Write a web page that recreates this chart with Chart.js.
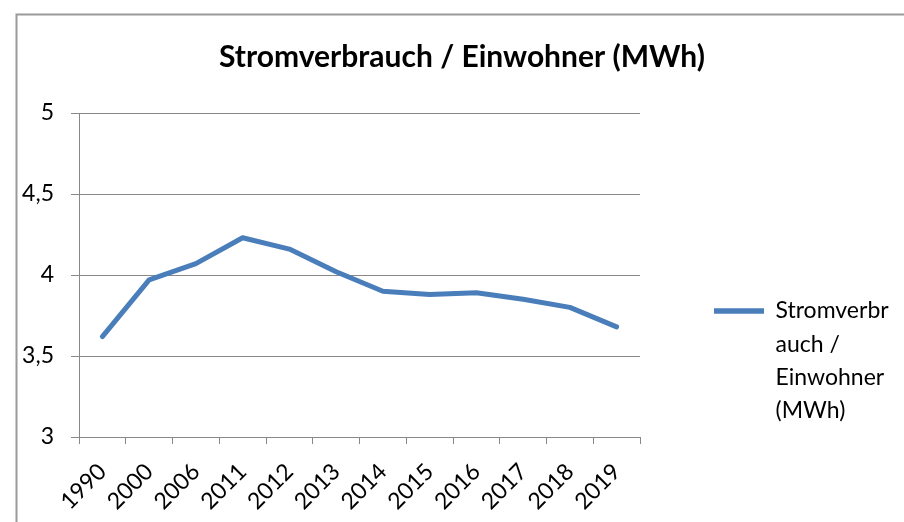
<!DOCTYPE html>
<html><head><meta charset="utf-8">
<script src="https://cdn.jsdelivr.net/npm/chart.js@4.4.0/dist/chart.umd.min.js"></script>
<style>html,body{margin:0;padding:0;background:#fff;overflow:hidden}</style>
</head><body>
<canvas id="c" width="904" height="522"></canvas>
<script>
const years = ['1990','2000','2006','2011','2012','2013','2014','2015','2016','2017','2018','2019'];
const consumption = [3.62, 3.97, 4.07, 4.23, 4.16, 4.02, 3.90, 3.88, 3.89, 3.85, 3.80, 3.68];
const yTicks = [3, 3.5, 4, 4.5, 5];
const titleText = 'Stromverbrauch / Einwohner (MWh)';
const seriesLabel = 'Stromverbrauch / Einwohner (MWh)';
const legendLines = ['Stromverbr', 'auch /', 'Einwohner', '(MWh)'];

const FONT = 'Lato, Carlito, "Open Sans", sans-serif';
const GRID = '#888888';
const LEGEND_W = 264;

const framePlugin = {
  id: 'frame',
  beforeDraw(chart) {
    const ctx = chart.ctx;
    ctx.save();
    ctx.fillStyle = '#ffffff';
    ctx.fillRect(0, 0, chart.width, chart.height);
    ctx.strokeStyle = '#9a9a9a';
    ctx.lineWidth = 2;
    ctx.strokeRect(16.5, 14.5, 2000, 2000);
    ctx.restore();
  }
};

const legendWidthPlugin = {
  id: 'legendWidth',
  beforeLayout(chart) {
    const lg = chart.legend;
    if (lg && !lg.__patched) {
      const orig = lg.fit;
      lg.fit = function () { orig.call(this); this.width = LEGEND_W; };
      lg.__patched = true;
    }
  }
};

new Chart(document.getElementById('c'), {
  type: 'line',
  data: {
    labels: years,
    datasets: [{
      label: seriesLabel,
      data: consumption,
      borderColor: '#4A7EBB',
      backgroundColor: '#4A7EBB',
      borderWidth: 5,
      borderCapStyle: 'round',
      borderJoinStyle: 'round',
      pointRadius: 0,
      pointHoverRadius: 0,
      tension: 0
    }]
  },
  options: {
    responsive: false,
    animation: false,
    devicePixelRatio: 1,
    layout: { padding: { left: 20, right: 0, top: 0, bottom: 0 } },
    plugins: {
      title: {
        display: true,
        text: titleText,
        color: '#000',
        font: { family: FONT, size: 30, weight: 'bold', lineHeight: 1.2 },
        padding: { top: 39, bottom: 38 }
      },
      legend: {
        position: 'right',
        align: 'center',
        title: { display: true, text: '', padding: { top: 196, bottom: 0 }, font: { size: 12, lineHeight: 1.2 } },
        labels: {
          usePointStyle: true,
          pointStyle: 'line',
          pointStyleWidth: 50,
          padding: 74,
          color: '#000',
          font: { family: FONT, size: 23, lineHeight: 1.45 },
          generateLabels(chart) {
            const items = Chart.defaults.plugins.legend.labels.generateLabels(chart);
            items.forEach(it => { it.text = legendLines; it.lineWidth = 5.5; });
            return items;
          }
        }
      },
      tooltip: { enabled: false }
    },
    scales: {
      x: {
        offset: true,
        afterFit(scale) { scale.height = 85; },
        grid: { offset: true, drawOnChartArea: false, color: GRID, tickLength: 7, lineWidth: 1 },
        border: { color: GRID, width: 1 },
        ticks: {
          color: '#000', maxRotation: 45, minRotation: 45, autoSkip: false,
          padding: 14,
          font: { family: FONT, size: 23 }
        }
      },
      y: {
        min: 3, max: 5,
        afterFit(scale) { scale.width = 59; },
        afterBuildTicks(scale) { scale.ticks = yTicks.map(v => ({ value: v })); },
        grid: { color: GRID, tickLength: 8, lineWidth: 1 },
        border: { color: GRID, width: 1 },
        ticks: {
          color: '#000', padding: 17,
          font: { family: FONT, size: 23 },
          callback: v => String(v).replace('.', ',')
        }
      }
    }
  },
  plugins: [framePlugin, legendWidthPlugin]
});
</script>
</body></html>
